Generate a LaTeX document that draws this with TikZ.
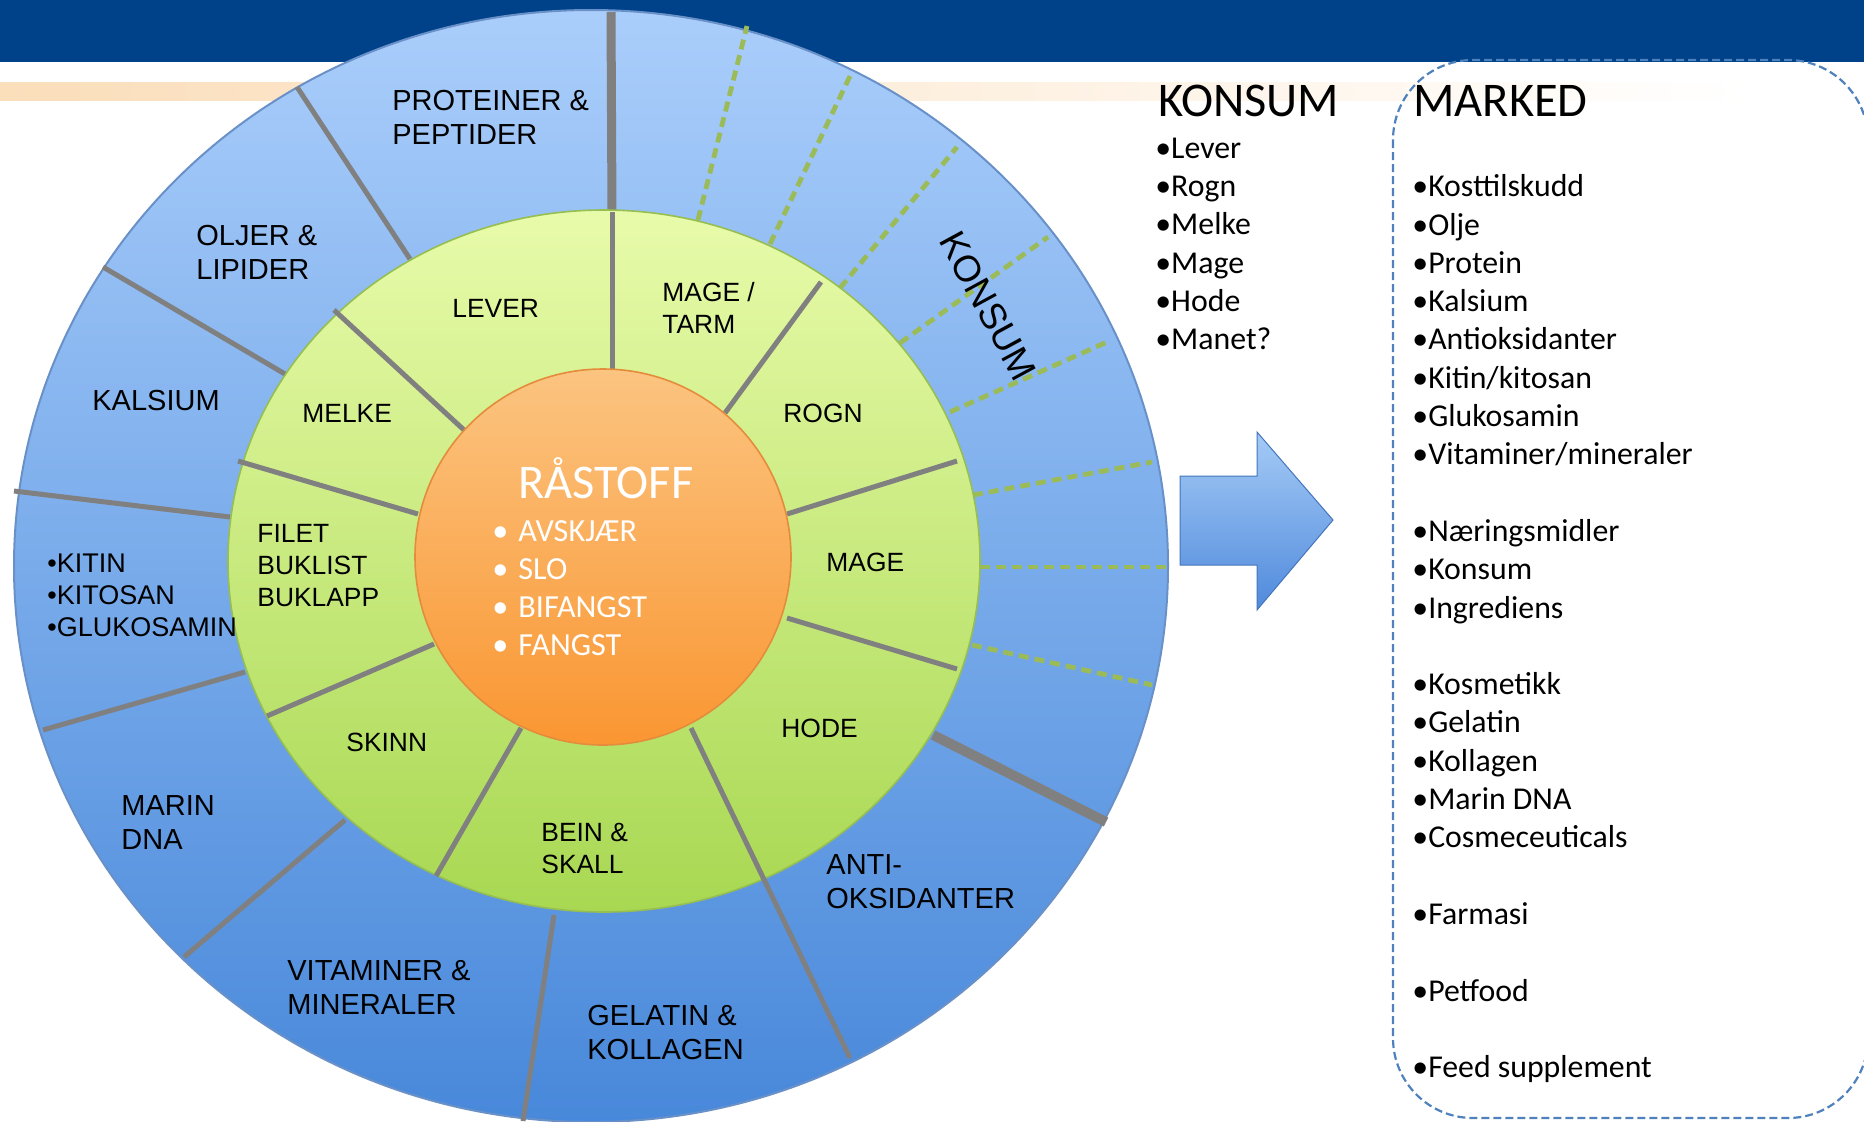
\documentclass[tikz,border=0pt]{standalone}
\usepackage{fontspec}
\setmainfont{Liberation Sans}
\newfontfamily\calibri{Carlito}
\definecolor{banner}{RGB}{0,66,137}
\definecolor{peach}{RGB}{251,222,186}
\definecolor{outtop}{RGB}{170,206,251}
\definecolor{outbot}{RGB}{72,136,218}
\definecolor{outrim}{RGB}{105,145,200}
\definecolor{greentop}{RGB}{232,251,170}
\definecolor{greenbot}{RGB}{168,216,82}
\definecolor{greenrim}{RGB}{150,190,80}
\definecolor{oratop}{RGB}{251,196,128}
\definecolor{orabot}{RGB}{250,150,50}
\definecolor{orarim}{RGB}{228,140,60}
\definecolor{spokegray}{RGB}{128,128,128}
\definecolor{cutgreen}{RGB}{155,187,89}
\definecolor{boxblue}{RGB}{79,129,189}
\definecolor{arrtop}{RGB}{165,203,246}
\definecolor{arrbot}{RGB}{80,138,220}
\begin{document}
\begin{tikzpicture}[x=0.5pt,y=-0.5pt,
  outlbl/.style={font=\fontsize{14.5}{17.25}\selectfont,align=left,anchor=base west,inner sep=0pt},
  inlbl/.style={font=\fontsize{13.2}{16}\selectfont,align=left,anchor=base west,inner sep=0pt},
  listtxt/.style={font=\calibri\fontsize{15.9}{19.15}\selectfont,align=left,anchor=base west,inner sep=0pt},
  headtxt/.style={font=\calibri\fontsize{24.2}{28}\selectfont,anchor=base west,inner sep=0pt},
  spoke/.style={draw=spokegray,line width=2.5pt},
  konsumcut/.style={draw=cutgreen,line width=2.4pt,dash pattern=on 5pt off 3pt}]
\useasboundingbox (0,0) rectangle (1864,1121);
\clip (0,0) rectangle (1864,1121);
\fill[banner](0,0) rectangle (1864,62);
\shade[left color=peach,right color=white](0,82) rectangle (1750,100);
\shade[top color=outtop,bottom color=outbot,draw=outrim,line width=1pt](591,566) ellipse [x radius=577,y radius=556];
\foreach \xa/\ya/\xb/\yb in {698/220/747/26,770/244/851/74,840/288/957/147,900/343/1048/237,950/412/1107/342,973/495/1152/462,980/567/1167/567,972/645/1152/685}{\draw[konsumcut](\xa,\ya)--(\xb,\yb);}
\foreach \xa/\ya/\xb/\yb in {410/259/297/87,285/374/103/267,230/517/14/491,245/672/43/730,345/820/184/957,554/915/523/1121}{\draw[spoke](\xa,\ya)--(\xb,\yb);}
\draw[spoke,line width=4.5pt](611,12)--(612,215);
\draw[spoke,line width=5pt](933,735)--(1106,822);
\shade[top color=greentop,bottom color=greenbot,draw=greenrim,line width=0.8pt](604,561) ellipse [x radius=376,y radius=351];
\foreach \xa/\ya/\xb/\yb in {612/212/612/372,334/310/464/430,821/282/725/413,238/461/418/514,957/461/787/514,267/716/434/644,957/669/787/618,521/728/436/876,691/728/850/1058}{\draw[spoke](\xa,\ya)--(\xb,\yb);}
\shade[top color=oratop,bottom color=orabot,draw=orarim,line width=0.8pt](603,557) circle [radius=188];
\shade[top color=arrtop,bottom color=arrbot,draw=arrbot!85!black,line width=0.5pt](1180,476)--(1257,476)--(1257,432)--(1333,520)--(1257,610)--(1257,565)--(1180,565)--cycle;
\draw[boxblue,line width=1.1pt,dash pattern=on 4pt off 2pt,rounded corners=40pt](1393,60) rectangle (1868,1118);
\node[outlbl](proteiner) at (392,144.9) {PROTEINER \&\\PEPTIDER};
\node[outlbl](oljer) at (196,279.9) {OLJER \&\\LIPIDER};
\node[outlbl](kalsium) at (92,410) {KALSIUM};
\node[outlbl,font=\fontsize{13.5}{16}\selectfont](kitin) at (47,636.7) {•KITIN\\•KITOSAN\\•GLUKOSAMIN};
\node[outlbl](marin) at (121,849.9) {MARIN\\DNA};
\node[outlbl](vitaminer) at (287,1014.9) {VITAMINER \&\\MINERALER};
\node[outlbl](gelatin) at (587,1059.9) {GELATIN \&\\KOLLAGEN};
\node[outlbl](anti) at (826,908.9) {ANTI-\\OKSIDANTER};
\node[font=\fontsize{18.5}{22}\selectfont,rotate=-61.5](konsumring) at (988,306) {KONSUM};
\node[inlbl](lever) at (452,317) {LEVER};
\node[inlbl](magetarm) at (662,333) {MAGE /\\TARM};
\node[inlbl](melke) at (302,422) {MELKE};
\node[inlbl](rogn) at (783,422) {ROGN};
\node[inlbl](filet) at (257,606) {FILET\\BUKLIST\\BUKLAPP};
\node[inlbl](mage) at (826,571) {MAGE};
\node[inlbl](skinn) at (346,751) {SKINN};
\node[inlbl](hode) at (781,737) {HODE};
\node[inlbl](bein) at (541,873) {BEIN \&\\SKALL};
\node[headtxt,text=white](raastoff) at (518,498.5) {RÅSTOFF};
\node[listtxt,text=white,font=\calibri\fontsize{16.1}{19}\selectfont](raalist) at (492,655) {\makebox[13pt][l]{•}AVSKJÆR\\\makebox[13pt][l]{•}SLO\\\makebox[13pt][l]{•}BIFANGST\\\makebox[13pt][l]{•}FANGST};
\node[headtxt](konsumhead) at (1158,116) {KONSUM};
\node[listtxt](konsumlist) at (1155,349.7) {•Lever\\•Rogn\\•Melke\\•Mage\\•Hode\\•Manet?};
\node[headtxt](markedhead) at (1413,116) {MARKED};
\node[listtxt](markedlist) at (1412,1077.6) {•Kosttilskudd\\•Olje\\•Protein\\•Kalsium\\•Antioksidanter\\•Kitin/kitosan\\•Glukosamin\\•Vitaminer/mineraler\\[19.15pt]•Næringsmidler\\•Konsum\\•Ingrediens\\[19.15pt]•Kosmetikk\\•Gelatin\\•Kollagen\\•Marin DNA\\•Cosmeceuticals\\[19.15pt]•Farmasi\\[19.15pt]•Petfood\\[19.15pt]•Feed supplement};
\end{tikzpicture}
\end{document}
